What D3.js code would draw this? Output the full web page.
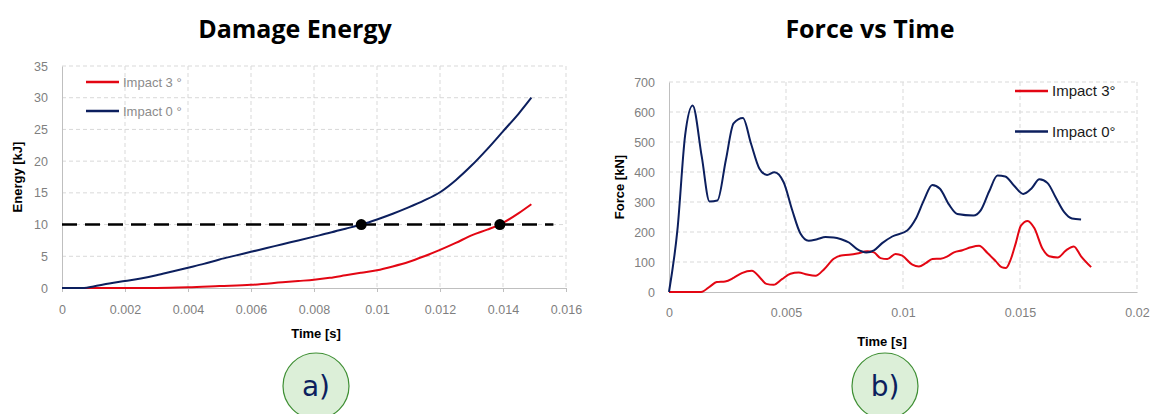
<!DOCTYPE html>
<html>
<head>
<meta charset="utf-8">
<script src="https://cdn.jsdelivr.net/npm/d3@7"></script>
<style>
  body { margin: 0; background: #fff; }
  svg { display: block; font-family: "Liberation Sans", Arial, sans-serif; }
</style>
</head>
<body>
<svg id="chart" width="1156" height="414"></svg>
<script>
// ---- data: damage energy (kJ) vs time (s)
var energyTime0 = [0, 0.0007, 0.001, 0.0015, 0.002, 0.0025, 0.003, 0.0035, 0.004, 0.0045, 0.005, 0.0055, 0.006, 0.0065, 0.007, 0.0075, 0.008, 0.0085, 0.009, 0.0095, 0.01, 0.0105, 0.011, 0.0115, 0.012, 0.0125, 0.013, 0.0135, 0.014, 0.0145, 0.0149];
var energyImpact0 = [0, 0, 0.25, 0.7, 1.1, 1.5, 2.0, 2.6, 3.2, 3.8, 4.5, 5.1, 5.7, 6.3, 6.9, 7.5, 8.1, 8.7, 9.35, 10.0, 10.8, 11.7, 12.7, 13.8, 15.1, 17.0, 19.3, 21.9, 24.7, 27.5, 30.0];
var energyTime3 = [0, 0.001, 0.002, 0.003, 0.004, 0.005, 0.006, 0.007, 0.0075, 0.008, 0.0085, 0.009, 0.0095, 0.01, 0.0105, 0.011, 0.0115, 0.012, 0.0125, 0.013, 0.0135, 0.0139, 0.0145, 0.0149];
var energyImpact3 = [0, 0, 0, 0, 0.1, 0.3, 0.5, 0.9, 1.1, 1.3, 1.6, 2.0, 2.4, 2.8, 3.4, 4.1, 5.0, 6.0, 7.1, 8.3, 9.2, 10.0, 11.8, 13.2];
var thresholdEnergy = 10;
var thresholdSpan = [0, 0.0156];
var crossTimes = [0.0095, 0.0139];
var energyTicksX = [0, 0.002, 0.004, 0.006, 0.008, 0.01, 0.012, 0.014, 0.016];
var energyTicksY = [0, 5, 10, 15, 20, 25, 30, 35];

// ---- data: force (kN) vs time (s)
var forceTime0 = [0, 0.00036, 0.00069, 0.00101, 0.0014, 0.00173, 0.00207, 0.00243, 0.00276, 0.00316, 0.0035, 0.00386, 0.00419, 0.0045, 0.0049, 0.00526, 0.00561, 0.00597, 0.00633, 0.00669, 0.00704, 0.00736, 0.00769, 0.00804, 0.00843, 0.00876, 0.00911, 0.00954, 0.01018, 0.01054, 0.0109, 0.01125, 0.01158, 0.01197, 0.01232, 0.01301, 0.01332, 0.01368, 0.01404, 0.01437, 0.01475, 0.01514, 0.0155, 0.01583, 0.01618, 0.01654, 0.01689, 0.01722, 0.01761];
var forceImpact0 = [0, 207, 523, 622, 451, 302, 305, 440, 562, 580, 496, 412, 390, 399, 366, 274, 196, 171, 176, 183, 182, 176, 165, 143, 132, 139, 163, 185, 205, 243, 307, 357, 344, 291, 260, 255, 272, 335, 388, 385, 354, 327, 346, 376, 363, 313, 266, 245, 242];
var forceTime3 = [0, 0.00033, 0.00069, 0.00104, 0.00137, 0.00176, 0.00204, 0.0024, 0.00276, 0.00311, 0.00354, 0.0039, 0.00416, 0.00447, 0.00483, 0.00519, 0.00554, 0.0059, 0.00626, 0.00664, 0.00704, 0.00736, 0.00769, 0.00804, 0.00847, 0.00876, 0.00904, 0.00933, 0.00968, 0.00997, 0.0104, 0.01068, 0.01097, 0.01126, 0.01161, 0.0119, 0.01218, 0.01254, 0.0129, 0.01325, 0.01361, 0.01397, 0.01421, 0.0144, 0.01461, 0.01482, 0.01504, 0.01533, 0.01561, 0.01597, 0.01625, 0.01661, 0.01697, 0.0173, 0.01761, 0.01804];
var forceImpact3 = [0, 0, 0, 0, 0, 19, 33, 35, 47, 63, 71, 47, 27, 24, 43, 61, 65, 58, 54, 77, 111, 122, 124, 128, 136, 132, 113, 110, 127, 121, 91, 85, 96, 110, 111, 119, 132, 139, 149, 154, 130, 102, 83, 80, 110, 163, 221, 237, 213, 143, 119, 115, 139, 152, 119, 83];
var forceTicksX = [0, 0.005, 0.01, 0.015, 0.02];
var forceTicksY = [0, 100, 200, 300, 400, 500, 600, 700];

var seriesNames = ["Impact 3°", "Impact 0°"];
var RED = "#e30613", BLUE = "#0c1f5e";

var svg = d3.select("#chart");

function zip(xs, ys) { return xs.map(function(x, i) { return [x, ys[i]]; }); }

function drawPanel(cfg) {
  var g = svg.append("g");
  var x = d3.scaleLinear().domain(cfg.xDomain).range([cfg.left, cfg.right]);
  var y = d3.scaleLinear().domain(cfg.yDomain).range([cfg.bottom, cfg.top]);

  // grid
  g.selectAll(".vg").data(cfg.xTicks.slice(1)).enter().append("line")
    .attr("x1", function(d) { return x(d); }).attr("x2", function(d) { return x(d); })
    .attr("y1", cfg.top).attr("y2", cfg.bottom)
    .attr("stroke", "#d9d9d9").attr("stroke-dasharray", "4,3");
  g.selectAll(".hg").data(cfg.yTicks.slice(1)).enter().append("line")
    .attr("x1", cfg.left).attr("x2", cfg.right)
    .attr("y1", function(d) { return y(d); }).attr("y2", function(d) { return y(d); })
    .attr("stroke", "#d9d9d9").attr("stroke-dasharray", "4,3");

  // axes
  var xAxis = g.append("g").attr("transform", "translate(0," + cfg.bottom + ")")
    .call(d3.axisBottom(x).tickValues(cfg.xTicks).tickSize(cfg.xTickSize).tickPadding(cfg.xPad)
      .tickFormat(function(d) { return d3.format("~g")(d); }));
  var yAxis = g.append("g").attr("transform", "translate(" + cfg.left + ",0)")
    .call(d3.axisLeft(y).tickValues(cfg.yTicks).tickSize(0).tickPadding(cfg.yPad));
  [xAxis, yAxis].forEach(function(a) {
    a.select(".domain").attr("stroke", "#bfbfbf");
    a.selectAll(".tick line").attr("stroke", "#bfbfbf");
    a.selectAll("text").attr("fill", "#7f7f7f").style("font-size", "12.5px")
      .style("font-family", "'Liberation Sans', Arial, sans-serif");
  });

  // title and labels
  g.append("text").attr("x", cfg.titleX).attr("y", 38).attr("text-anchor", "middle")
    .style("font-size", "25px").style("font-weight", "bold").style("font-family", "'Open Sans', sans-serif")
    .text(cfg.title);
  g.append("text").attr("x", cfg.xLabelX).attr("y", cfg.xLabelY).attr("text-anchor", "middle")
    .style("font-size", "13px").style("font-weight", "bold").text("Time [s]");
  g.append("text").attr("transform", "translate(" + cfg.yLabelX + "," + ((cfg.top + cfg.bottom) / 2) + ") rotate(-90)")
    .attr("text-anchor", "middle").style("font-size", "13px").style("font-weight", "bold").text(cfg.yLabel);

  var line = d3.line().x(function(d) { return x(d[0]); }).y(function(d) { return y(d[1]); })
    .curve(d3.curveMonotoneX);

  return { g: g, x: x, y: y, line: line };
}

// ---------- left panel
var L = drawPanel({
  left: 62, right: 566, top: 66, bottom: 288,
  xDomain: [0, 0.016], yDomain: [0, 35],
  xTicks: energyTicksX, yTicks: energyTicksY,
  xTickSize: 4, xPad: 13, yPad: 14,
  title: "Damage Energy", titleX: 295,
  xLabelX: 316, xLabelY: 338,
  yLabel: "Energy [kJ]", yLabelX: 22
});

L.g.append("path").datum(thresholdSpan.map(function(t) { return [t, thresholdEnergy]; }))
  .attr("d", d3.line().x(function(d) { return L.x(d[0]); }).y(function(d) { return L.y(d[1]); }))
  .attr("stroke", "#000").attr("stroke-width", 2.5).attr("stroke-dasharray", "15,8").attr("fill", "none");

L.g.append("path").datum(zip(energyTime3, energyImpact3)).attr("d", L.line)
  .attr("fill", "none").attr("stroke", RED).attr("stroke-width", 2);
L.g.append("path").datum(zip(energyTime0, energyImpact0)).attr("d", L.line)
  .attr("fill", "none").attr("stroke", BLUE).attr("stroke-width", 2);

L.g.selectAll(".dot").data(crossTimes).enter().append("circle")
  .attr("cx", function(d) { return L.x(d); }).attr("cy", L.y(thresholdEnergy)).attr("r", 5.5)
  .attr("fill", "#000");

var legL = L.g.selectAll(".legL").data(seriesNames).enter().append("g")
  .attr("transform", function(d, i) { return "translate(86," + (82 + i * 29) + ")"; });
legL.append("line").attr("x1", 0).attr("x2", 33)
  .attr("stroke", function(d, i) { return i ? BLUE : RED; }).attr("stroke-width", 2.5);
legL.append("text").attr("x", 37).attr("y", 4.5).attr("fill", "#8c8c8c").style("font-size", "13px")
  .text(function(d) { return d.replace("°", " °"); });

// ---------- right panel
var R = drawPanel({
  left: 669, right: 1137, top: 82, bottom: 292,
  xDomain: [0, 0.02], yDomain: [0, 700],
  xTicks: forceTicksX, yTicks: forceTicksY,
  xTickSize: 0, xPad: 16, yPad: 14,
  title: "Force vs Time", titleX: 870,
  xLabelX: 882, xLabelY: 346,
  yLabel: "Force [kN]", yLabelX: 624
});

R.g.append("path").datum(zip(forceTime3, forceImpact3)).attr("d", R.line)
  .attr("fill", "none").attr("stroke", RED).attr("stroke-width", 2);
R.g.append("path").datum(zip(forceTime0, forceImpact0)).attr("d", R.line)
  .attr("fill", "none").attr("stroke", BLUE).attr("stroke-width", 2);

var legR = R.g.selectAll(".legR").data(seriesNames).enter().append("g")
  .attr("transform", function(d, i) { return "translate(1015," + (91 + i * 40.5) + ")"; });
legR.append("line").attr("x1", 0).attr("x2", 33)
  .attr("stroke", function(d, i) { return i ? BLUE : RED; }).attr("stroke-width", 2.5);
legR.append("text").attr("x", 37).attr("y", 5).attr("fill", "#1a1a1a").style("font-size", "15px")
  .text(function(d) { return d; });

// ---------- panel badges
var badges = [{ label: "a)", cx: 316 }, { label: "b)", cx: 885 }];
var bg = svg.selectAll(".badge").data(badges).enter().append("g")
  .attr("transform", function(d) { return "translate(" + d.cx + ",386)"; });
bg.append("circle").attr("r", 33).attr("fill", "#dcefd8").attr("stroke", "#3f8f34").attr("stroke-width", 1.2);
bg.append("text").attr("y", 10).attr("text-anchor", "middle").attr("fill", "#0c1f5e")
  .style("font-size", "28px").style("font-family", "'DejaVu Sans', sans-serif")
  .text(function(d) { return d.label; });
</script>
</body>
</html>
